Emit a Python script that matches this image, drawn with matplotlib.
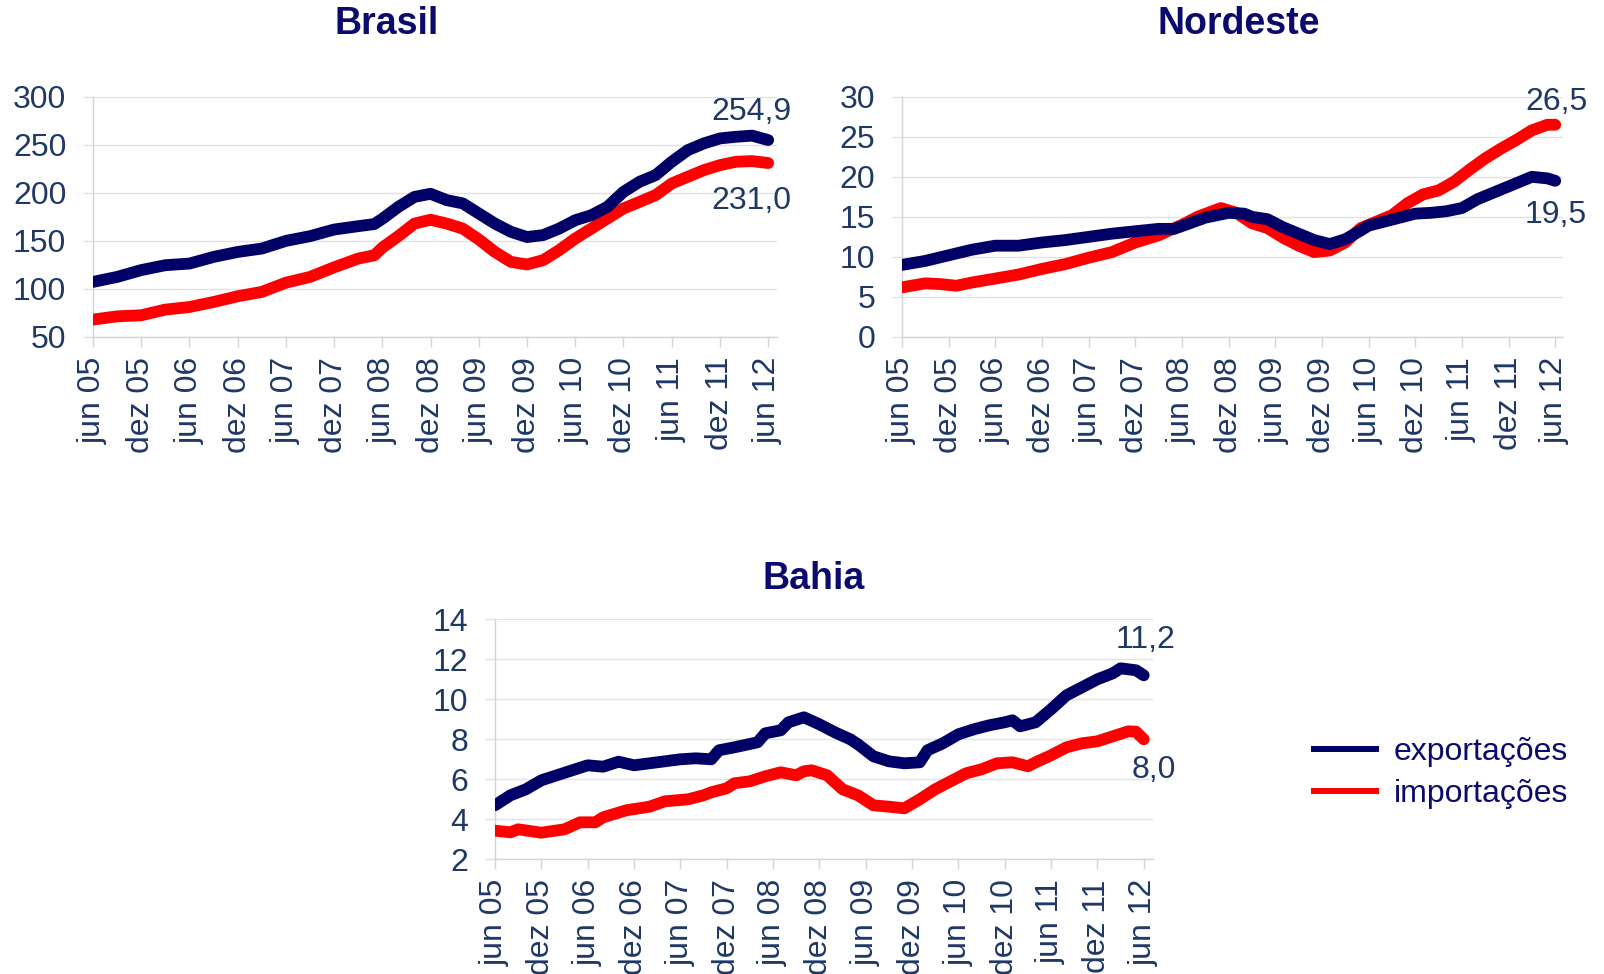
import matplotlib
matplotlib.use('Agg')
import matplotlib.pyplot as plt
from matplotlib.lines import Line2D

plt.rcParams['font.family'] = ['Liberation Sans', 'DejaVu Sans']

NAVY = '#000066'
RED = '#FF0000'
TXT = '#1F3864'
TITLE = '#0B0B6E'
GRID = '#E2E2E2'
AXIS = '#D4D4D4'
FS = 23

# month index 0 = jun 05 ... 84 = jun 12
tick_months = list(range(0, 85, 6))
tick_labels = ['jun 05', 'dez 05', 'jun 06', 'dez 06', 'jun 07', 'dez 07', 'jun 08',
               'dez 08', 'jun 09', 'dez 09', 'jun 10', 'dez 10', 'jun 11', 'dez 11', 'jun 12']

# Brasil (US$ bilhoes, acumulado 12 meses)
brasil_months = [0, 3, 6, 9, 12, 15, 18, 21, 24, 27, 30, 33, 35, 36, 38, 40, 42, 44, 46,
                 48, 50, 52, 54, 56, 58, 60, 62, 64, 66, 68, 70, 72, 74, 76, 78, 80, 82, 84]
brasil_exp = [107.3, 112.5, 119.6, 124.7, 126.4, 133.3, 138.5, 142.0, 150.0, 154.9, 161.8,
              165.3, 167.5, 173.0, 185.4, 195.8, 199.0, 192.4, 189.0, 178.5, 168.0, 159.4,
              154.0, 156.0, 162.8, 171.5, 176.7, 185.4, 201.0, 211.5, 218.4, 232.3, 244.4,
              251.4, 256.6, 258.3, 259.5, 254.9]
brasil_imp = [68.1, 71.5, 72.6, 78.5, 81.2, 86.4, 92.4, 96.9, 106.5, 112.5, 122.5, 131.6,
              135.0, 143.0, 155.0, 168.0, 172.0, 168.0, 162.8, 151.5, 138.5, 128.1, 125.5,
              129.9, 140.3, 152.4, 162.8, 173.3, 183.7, 190.6, 197.6, 209.7, 216.7, 223.6,
              228.8, 232.3, 233.0, 231.0]

# Nordeste
nordeste_exp_months = [0, 3, 6, 9, 12, 15, 18, 21, 24, 27, 30, 33, 35, 37, 39, 42, 44, 45,
                       47, 49, 51, 53, 55, 57, 59, 60, 62, 64, 66, 68, 70, 72, 74, 76, 78,
                       80, 81, 83, 84]
nordeste_exp = [9.0, 9.5, 10.2, 10.9, 11.4, 11.4, 11.8, 12.1, 12.5, 12.9, 13.2, 13.5, 13.5,
                14.2, 14.9, 15.5, 15.4, 15.0, 14.7, 13.7, 12.9, 12.1, 11.6, 12.2, 13.3, 13.9,
                14.4, 14.9, 15.4, 15.5, 15.7, 16.1, 17.2, 18.0, 18.8, 19.6, 20.0, 19.8, 19.5]
nordeste_imp_months = [0, 3, 5, 7, 9, 12, 15, 18, 21, 24, 27, 30, 33, 36, 38, 41, 43, 45,
                       47, 49, 51, 53, 55, 57, 59, 61, 63, 65, 67, 69, 71, 73, 75, 77, 79,
                       81, 83, 84]
nordeste_imp = [6.2, 6.7, 6.6, 6.4, 6.8, 7.3, 7.8, 8.5, 9.1, 9.9, 10.6, 11.8, 12.7, 14.0,
                15.0, 16.1, 15.5, 14.2, 13.6, 12.4, 11.4, 10.6, 10.8, 11.8, 13.6, 14.4, 15.2,
                16.7, 17.8, 18.3, 19.4, 20.9, 22.3, 23.5, 24.6, 25.8, 26.5, 26.5]

# Bahia
bahia_exp_months = [0, 2, 4, 6, 8, 10, 12, 14, 16, 18, 21, 24, 26, 28, 29, 31, 34, 35, 37,
                    38, 40, 42, 44, 46, 47, 49, 51, 53, 55, 56, 58, 60, 62, 64, 66, 67, 68,
                    70, 72, 74, 76, 78, 80, 81, 83, 84]
bahia_exp = [4.7, 5.2, 5.5, 5.95, 6.2, 6.45, 6.7, 6.63, 6.88, 6.7, 6.85, 7.0, 7.05, 7.0,
             7.45, 7.6, 7.85, 8.3, 8.45, 8.85, 9.1, 8.75, 8.35, 8.0, 7.75, 7.15, 6.9, 6.8,
             6.85, 7.45, 7.8, 8.25, 8.5, 8.7, 8.85, 8.95, 8.65, 8.85, 9.5, 10.2, 10.6, 11.0,
             11.3, 11.55, 11.45, 11.2]
bahia_imp_months = [0, 2, 3, 6, 9, 11, 13, 14, 17, 20, 22, 25, 27, 28, 30, 31, 33, 35, 37,
                    39, 40, 41, 43, 45, 47, 49, 51, 53, 55, 57, 59, 61, 63, 65, 67, 69, 70,
                    72, 74, 76, 78, 80, 82, 83, 84]
bahia_imp = [3.43, 3.35, 3.5, 3.33, 3.5, 3.85, 3.85, 4.1, 4.45, 4.63, 4.9, 5.0, 5.2, 5.35,
             5.55, 5.8, 5.9, 6.15, 6.35, 6.2, 6.4, 6.45, 6.2, 5.5, 5.2, 4.7, 4.63, 4.55, 5.0,
             5.5, 5.9, 6.3, 6.5, 6.8, 6.85, 6.65, 6.85, 7.2, 7.6, 7.8, 7.9, 8.15, 8.4, 8.38,
             8.0]


def fmt(v):
    return ('%.1f' % v).replace('.', ',')


def draw_panel(ax, mx, ex, mi, im, yticks, xmax, off_exp, off_imp):
    ax.plot(mi, im, color=RED, lw=8.5, solid_capstyle='round', solid_joinstyle='round', zorder=3)
    ax.plot(mx, ex, color=NAVY, lw=8.5, solid_capstyle='round', solid_joinstyle='round', zorder=4)
    ax.set_xlim(0, xmax)
    ax.set_ylim(yticks[0], yticks[-1])
    ax.set_yticks(yticks)
    ax.set_xticks(tick_months)
    ax.set_xticklabels(tick_labels, rotation=90)
    ax.grid(axis='y', color=GRID, lw=1, zorder=0)
    for s in ['top', 'right']:
        ax.spines[s].set_visible(False)
    for s in ['left', 'bottom']:
        ax.spines[s].set_color(AXIS)
        ax.spines[s].set_linewidth(1)
    ax.tick_params(axis='x', colors=AXIS, labelcolor=TXT, labelsize=FS, length=7.2, width=1, pad=7)
    ax.tick_params(axis='y', colors=GRID, labelcolor=TXT, labelsize=FS, length=7.2, width=1, pad=12)
    ax.annotate(fmt(ex[-1]), (mx[-1], ex[-1]), xytext=off_exp, textcoords='offset pixels',
                ha='right', va='center', fontsize=FS, color=TXT)
    ax.annotate(fmt(im[-1]), (mi[-1], im[-1]), xytext=off_imp, textcoords='offset pixels',
                ha='right', va='center', fontsize=FS, color=TXT)


W, H = 1604, 974
fig = plt.figure(figsize=(W / 100, H / 100), dpi=100)

ax1 = fig.add_axes([93 / W, 1 - 337 / H, 684 / W, 240.3 / H])
draw_panel(ax1, brasil_months, brasil_exp, brasil_months, brasil_imp,
           [50, 100, 150, 200, 250, 300], 85.1, (23, 28), (23, -38))

ax2 = fig.add_axes([902 / W, 1 - 337 / H, 661 / W, 240.3 / H])
draw_panel(ax2, nordeste_exp_months, nordeste_exp, nordeste_imp_months, nordeste_imp,
           [0, 5, 10, 15, 20, 25, 30], 85.0, (32, -34), (32, 23))

ax3 = fig.add_axes([495 / W, 1 - 859.3 / H, 658 / W, 240 / H])
draw_panel(ax3, bahia_exp_months, bahia_exp, bahia_imp_months, bahia_imp,
           [2, 4, 6, 8, 10, 12, 14], 85.2, (32, 35), (32, -31))

fig.text(387 / W, 1 - 24 / H, 'Brasil', ha='center', va='center', fontsize=27,
         fontweight='bold', color=TITLE)
fig.text(1239 / W, 1 - 24 / H, 'Nordeste', ha='center', va='center', fontsize=27,
         fontweight='bold', color=TITLE)
fig.text(814 / W, 1 - 579 / H, 'Bahia', ha='center', va='center', fontsize=27,
         fontweight='bold', color=TITLE)

handles = [Line2D([], [], color=NAVY, lw=4.3), Line2D([], [], color=RED, lw=4.3)]
leg = fig.legend(handles, ['exportações', 'importações'], loc='center left',
                 bbox_to_anchor=(1314 / W, 1 - 773 / H), frameon=False, fontsize=FS,
                 handlelength=1.95, handletextpad=0.54, labelspacing=0.38,
                 borderpad=0, borderaxespad=0)
for t in leg.get_texts():
    t.set_color(TITLE)

fig.savefig('out.png', dpi=100)
